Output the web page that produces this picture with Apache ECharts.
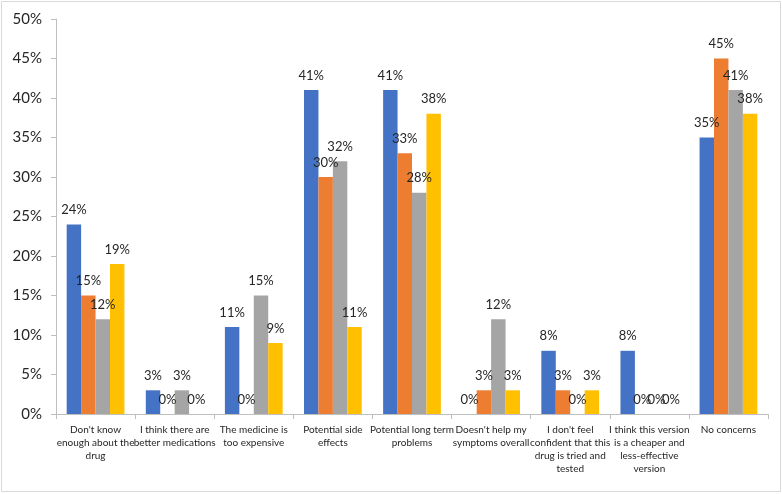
<!DOCTYPE html>
<html>
<head>
<meta charset="utf-8">
<script src="https://cdn.jsdelivr.net/npm/echarts@6/dist/echarts.min.js"></script>
<style>
html,body{margin:0;padding:0;background:#fff;}
#chart{width:782px;height:494px;}
</style>
</head>
<body>
<div id="chart"></div>
<script>
const categories = [
  "Don't know\nenough about the\ndrug",
  "I think there are\nbetter medications",
  "The medicine is\ntoo expensive",
  "Potential side\neffects",
  "Potential long term\nproblems",
  "Doesn't help my\nsymptoms overall",
  "I don't feel\nconfident that this\ndrug is tried and\ntested",
  "I think this version\nis a cheaper and\nless-effective\nversion",
  "No concerns"
];
const series1 = [24, 3, 11, 41, 41, 0, 8, 8, 35];
const series2 = [15, 0, 0, 30, 33, 3, 3, 0, 45];
const series3 = [12, 3, 15, 32, 28, 12, 0, 0, 41];
const series4 = [19, 0, 9, 11, 38, 3, 3, 0, 38];
const yTicks = [0, 5, 10, 15, 20, 25, 30, 35, 40, 45, 50];

const colors = ['#4472C4', '#ED7D31', '#A5A5A5', '#FFC000'];
const font = 'Lato';

function mk(data, i) {
  return {
    type: 'bar',
    data: data,
    barGap: '0%',
    barCategoryGap: '27%',
    itemStyle: { color: colors[i] },
    label: {
      show: true,
      position: 'top',
      distance: 8,
      formatter: '{c}%',
      color: '#262626',
      fontFamily: font,
      fontSize: 13
    }
  };
}

const chart = echarts.init(document.getElementById('chart'));
chart.setOption({
  animation: false,
  backgroundColor: '#fff',
  graphic: [{
    type: 'rect',
    shape: { x: 1.5, y: 1.5, width: 779, height: 490 },
    style: { fill: 'none', stroke: '#d9d9d9', lineWidth: 1 },
    silent: true
  }],
  grid: { left: 56, right: 14, top: 19, bottom: 80 },
  xAxis: {
    type: 'category',
    data: categories,
    axisLine: { lineStyle: { color: '#bfbfbf' } },
    axisTick: { show: true, length: 5, lineStyle: { color: '#bfbfbf' } },
    axisLabel: {
      interval: 0,
      color: '#262626',
      fontFamily: font,
      fontSize: 10,
      lineHeight: 13,
      margin: 9
    }
  },
  yAxis: {
    type: 'value',
    min: yTicks[0],
    max: yTicks[yTicks.length - 1],
    interval: 5,
    axisLine: { show: true, lineStyle: { color: '#bfbfbf' } },
    axisTick: { show: true, length: 5, lineStyle: { color: '#bfbfbf' } },
    splitLine: { show: false },
    axisLabel: {
      formatter: '{value}%',
      color: '#262626',
      fontFamily: font,
      fontSize: 15,
      margin: 14
    }
  },
  series: [mk(series1, 0), mk(series2, 1), mk(series3, 2), mk(series4, 3)]
});
</script>
</body>
</html>
